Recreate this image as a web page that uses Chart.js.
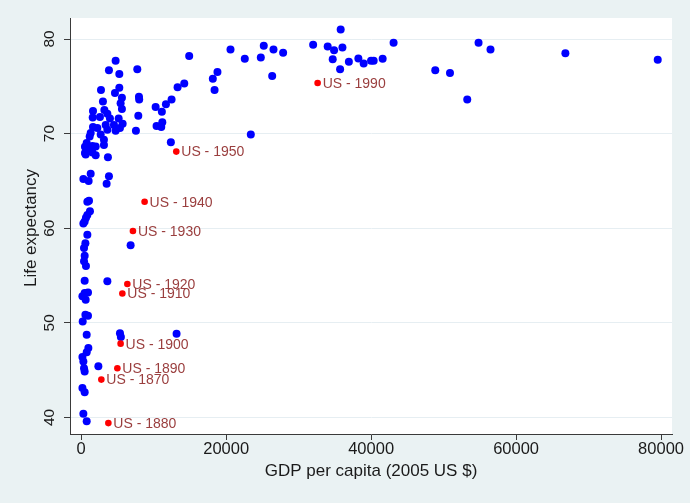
<!DOCTYPE html>
<html>
<head>
<meta charset="utf-8">
<script src="https://cdn.jsdelivr.net/npm/chart.js@4/dist/chart.umd.min.js"></script>
<style>
  html, body { margin: 0; padding: 0; background: #EAF2F3; }
  #wrap { width: 690px; height: 503px; }
</style>
</head>
<body>
<div id="wrap"><canvas id="chart" width="690" height="503"></canvas></div>
<script>
// Countries: GDP per capita (2005 US $) and life expectancy (years)
const gdpPerCapita = [
  14900, 4750, 3830, 5260, 7740, 18800, 18160, 18400, 14220, 13300,
  2730, 5260, 4660, 3000, 5620, 5440, 7970, 8000, 12470, 11690,
  10270, 11130, 1630, 3200, 3610, 5620, 2590, 1590, 3970, 5170,
  7880, 11190, 10400, 11050, 3380, 4520, 5720, 5350, 1630, 2230,
  3610, 4750, 7550, 1310, 2690, 3140, 1170, 12370, 760, 520,
  1540, 2000, 3140, 620, 2000, 3690, 1300, 1550, 520,
  20600, 22570, 25190, 24780, 26530, 27860, 26350, 32000, 35800, 34010,
  34890, 36040, 34700, 36930, 35720, 23400,
  38240, 38970, 39990, 40350, 41590, 43100, 48850, 50880, 54820, 56470,
  53260, 66800, 79540,
  1310, 300, 1030, 3830, 3510, 1080, 850, 1210, 850, 660,
  480, 300, 850, 580, 390, 480, 390, 660, 6820, 480, 3610,
  480, 940, 170, 620, 580, 940, 210, 5350, 5480, 13160,
  760, 990, 760, 170, 300, 390, 480, 2370, 170, 480, 300, 760
];
const lifeExpectancy = [
  78.2, 77.7, 76.7, 76.3, 76.8, 76.5, 75.8, 74.6, 75.3, 74.9,
  74.6, 74.85, 74.3, 73.4, 73.8, 73.2, 73.9, 73.6, 73.6, 73.1,
  72.8, 72.3, 72.4, 72.5, 72.1, 72.6, 71.75, 71.7, 71.6, 71.6,
  71.9, 71.2, 70.8, 70.7, 70.9, 70.9, 71.05, 70.6, 70.7, 70.6,
  70.4, 70.3, 70.3, 70.06, 69.9, 69.35, 69.7, 69.1, 69.0, 68.6,
  68.7, 68.65, 68.8, 67.8, 67.7, 67.5, 68.4, 68.0, 67.95,
  78.9, 77.9, 79.3, 78.05, 78.9, 78.55, 76.1, 79.4, 81.0, 79.2,
  78.8, 79.1, 77.85, 77.6, 76.8, 69.9,
  77.95, 77.4, 77.7, 77.7, 77.9, 79.6, 76.7, 76.4, 79.6, 78.9,
  73.6, 78.5, 77.8,
  65.76, 65.2, 65.0, 65.5, 64.7, 62.9, 62.8, 61.8, 61.4, 61.1,
  60.7, 60.5, 59.3, 58.4, 57.9, 57.1, 56.5, 56.0, 58.2, 54.45, 54.4,
  53.15, 53.2, 52.8, 52.45, 50.85, 50.75, 50.15, 48.9, 48.5, 48.85,
  48.75, 47.35, 46.9, 46.4, 45.9, 45.2, 44.85, 45.4, 43.1, 42.65, 40.4, 39.6
];

// United States over time
const usYears = [1870, 1880, 1890, 1900, 1910, 1920, 1930, 1940, 1950, 1990];
const usGdp = [2780, 3750, 4990, 5440, 5680, 6370, 7140, 8750, 13120, 32620];
const usLife = [44.0, 39.4, 45.2, 47.8, 53.1, 54.1, 59.7, 62.8, 68.1, 75.35];

const xTickValues = [0, 20000, 40000, 60000, 80000];
const yTickValues = [40, 50, 60, 70, 80];
const xTitle = 'GDP per capita (2005 US $)';
const yTitle = 'Life expectancy';

const FONT = '"Liberation Sans", Arial, Helvetica, sans-serif';
const INK = '#1a1a1a';
const AXIS = '#3a3a3a';
const LABEL = '#9a3e3e';

const countryPoints = gdpPerCapita.map((g, i) => ({ x: g, y: lifeExpectancy[i] }));
const usPoints = usGdp.map((g, i) => ({ x: g, y: usLife[i], label: 'US - ' + usYears[i] }));

const frame = {
  id: 'frame',
  beforeDraw(chart) {
    const { ctx, chartArea: a } = chart;
    ctx.save();
    ctx.fillStyle = '#EAF2F3';
    ctx.fillRect(0, 0, chart.width, chart.height);
    ctx.fillStyle = '#ffffff';
    ctx.fillRect(a.left, a.top, a.right - a.left, a.bottom - a.top);
    ctx.restore();
  },
  afterDraw(chart) {
    const { ctx, chartArea: a, scales } = chart;
    const ys = scales.y;
    ctx.save();
    ctx.fillStyle = INK;
    // vertical tick labels, reading upward
    ctx.font = '15.5px ' + FONT;
    ctx.textAlign = 'center';
    ctx.textBaseline = 'alphabetic';
    yTickValues.forEach(v => {
      const py = ys.getPixelForValue(v);
      ctx.save();
      ctx.translate(54, py);
      ctx.rotate(-Math.PI / 2);
      ctx.fillText(String(v), 0, 0);
      ctx.restore();
    });
    // axis titles
    ctx.font = '17px ' + FONT;
    ctx.save();
    ctx.translate(36, (a.top + a.bottom) / 2 + 2);
    ctx.rotate(-Math.PI / 2);
    ctx.fillText(yTitle, 0, 0);
    ctx.restore();
    ctx.fillText(xTitle, (a.left + a.right) / 2, 476);
    ctx.restore();
  }
};

const usLabels = {
  id: 'usLabels',
  afterDatasetsDraw(chart) {
    const { ctx, scales } = chart;
    ctx.save();
    ctx.font = '14px ' + FONT;
    ctx.fillStyle = LABEL;
    ctx.textAlign = 'left';
    ctx.textBaseline = 'middle';
    usPoints.forEach(p => {
      const px = scales.x.getPixelForValue(p.x);
      const py = scales.y.getPixelForValue(p.y);
      ctx.fillText(p.label, px + 5, py + 1);
    });
    ctx.restore();
  }
};

new Chart(document.getElementById('chart'), {
  type: 'scatter',
  data: {
    datasets: [
      {
        label: 'Countries',
        data: countryPoints,
        backgroundColor: '#0000ff',
        borderColor: '#0000ff',
        borderWidth: 0,
        pointRadius: 4,
        order: 2
      },
      {
        label: 'United States',
        data: usPoints,
        backgroundColor: '#ff0000',
        borderColor: '#ff0000',
        borderWidth: 0,
        pointRadius: 3.3,
        order: 1
      }
    ]
  },
  options: {
    responsive: false,
    animation: false,
    devicePixelRatio: 1,
    layout: { padding: { top: 18, right: 18, left: 0, bottom: 0 } },
    plugins: { legend: { display: false }, tooltip: { enabled: false } },
    scales: {
      x: {
        type: 'linear',
        min: -1543,
        max: 81509,
        afterBuildTicks: s => { s.ticks = xTickValues.map(v => ({ value: v })); },
        afterFit: s => { s.height = 69; },
        ticks: {
          color: INK,
          font: { size: 16.5, family: FONT },
          padding: 0,
          maxRotation: 0,
          autoSkip: false,
          callback: v => String(v)
        },
        grid: { drawOnChartArea: false, tickLength: 6, tickColor: AXIS, lineWidth: 1 },
        border: { color: AXIS, width: 1 }
      },
      y: {
        type: 'linear',
        min: 38.25,
        max: 82.22,
        afterBuildTicks: s => { s.ticks = yTickValues.map(v => ({ value: v })); },
        afterFit: s => { s.width = 70; },
        ticks: { display: false },
        grid: { color: '#e6eef2', lineWidth: 1, tickLength: 6, tickColor: AXIS },
        border: { color: AXIS, width: 1 }
      }
    }
  },
  plugins: [frame, usLabels]
});
</script>
</body>
</html>
